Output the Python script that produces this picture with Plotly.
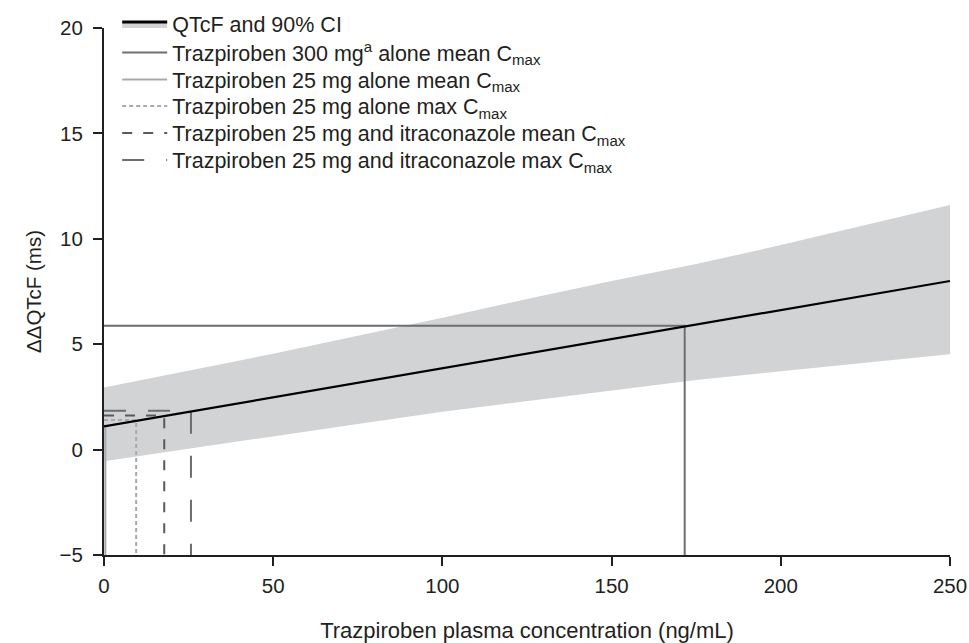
import plotly.graph_objects as go

# Concentration grid (ng/mL) and model-predicted ΔΔQTcF (ms) with 90% CI
conc = [0, 25, 50, 75, 100, 125, 150, 175, 200, 225, 250]
qtcf_mean = [1.10, 1.79, 2.48, 3.17, 3.86, 4.55, 5.24, 5.93, 6.62, 7.31, 8.00]
ci_upper = [2.94, 3.75, 4.55, 5.40, 6.25, 7.15, 8.00, 8.80, 9.70, 10.65, 11.60]
ci_lower = [-0.55, 0.05, 0.62, 1.22, 1.80, 2.30, 2.78, 3.30, 3.72, 4.12, 4.52]

# Reference Cmax values (ng/mL) and the corresponding predicted ΔΔQTcF (ms)
ref_names = [
    "Trazpiroben 300 mg<sup>a</sup> alone mean C<sub>max</sub>",
    "Trazpiroben 25 mg alone mean C<sub>max</sub>",
    "Trazpiroben 25 mg alone max C<sub>max</sub>",
    "Trazpiroben 25 mg and itraconazole mean C<sub>max</sub>",
    "Trazpiroben 25 mg and itraconazole max C<sub>max</sub>",
]
ref_cmax = [171.6, 0.4, 9.5, 17.8, 25.7]
ref_qtcf = [5.87, 1.13, 1.40, 1.62, 1.84]
ref_colors = ["#6d6e71", "#a7a9ac", "#a7a9ac", "#58595b", "#6d6e71"]
ref_dash = ["solid", "solid", "4px,3px", "10px,11px", "22px,22px"]

Y_MIN, Y_MAX = -5, 20
X_MIN, X_MAX = 0, 250

FONT = "Liberation Sans, Arial, Helvetica, sans-serif"
TXT = "#231f20"

W, H = 969, 643
ML, MR, MT, MB = 104, 19, 28, 88
PH = H - MT - MB
PW = W - ML - MR

# legend row centres (px from top)
legend_rows = [24, 52.5, 79.5, 106, 133, 160]
legend_ids = ["legend", "legend2", "legend3", "legend4", "legend5", "legend6"]

fig = go.Figure()

# CI band
fig.add_trace(go.Scatter(x=conc, y=ci_lower, mode="lines", line=dict(width=0, color="#d1d3d4"),
                         showlegend=False, hoverinfo="skip"))
fig.add_trace(go.Scatter(x=conc, y=ci_upper, mode="lines", line=dict(width=0, color="#d1d3d4"),
                         fill="tonexty", fillcolor="#d1d3d4", showlegend=False, hoverinfo="skip"))

# Reference lines
for i, (nm, cx, qy, col, dsh) in enumerate(zip(ref_names, ref_cmax, ref_qtcf, ref_colors, ref_dash)):
    fig.add_trace(go.Scatter(
        x=[X_MIN, cx, cx], y=[qy, qy, Y_MIN], mode="lines",
        line=dict(color=col, width=2, dash=dsh),
        name=nm, legend=legend_ids[i + 1], showlegend=True,
    ))

# Mean line
fig.add_trace(go.Scatter(x=conc, y=qtcf_mean, mode="lines", line=dict(color="#000000", width=2.2),
                         showlegend=False))

# Legend entry for the QTcF line + CI
fig.add_trace(go.Scatter(x=[None], y=[None], mode="lines", name="QTcF and 90% CI",
                         line=dict(color="#000000", width=3), fill="toself", fillcolor="#d1d3d4",
                         legend="legend"))

legend_common = dict(xanchor="left", yanchor="middle", bgcolor="rgba(0,0,0,0)",
                     font=dict(size=21.5, family=FONT, color=TXT), itemwidth=45)
legend_layout = {}
for lid, ry in zip(legend_ids, legend_rows):
    legend_layout[lid] = dict(x=6 / PW + 0.0085, y=1 - (ry - MT) / PH, **legend_common)

fig.update_layout(
    width=W, height=H,
    margin=dict(l=ML, r=MR, t=MT, b=MB, autoexpand=False),
    paper_bgcolor="white", plot_bgcolor="white",
    font=dict(family=FONT, size=20, color=TXT),
    showlegend=True,
    xaxis=dict(range=[X_MIN, X_MAX], tickvals=[0, 50, 100, 150, 200, 250],
               showline=True, linecolor=TXT, linewidth=2, ticks="outside", ticklen=9,
               tickwidth=1.5, tickcolor=TXT, showgrid=False, zeroline=False, automargin=False,
               ticklabelstandoff=2,
               title=dict(text="Trazpiroben plasma concentration (ng/mL)", standoff=29,
                          font=dict(size=22)),
               tickfont=dict(size=20.5)),
    yaxis=dict(range=[Y_MIN, Y_MAX], tickvals=[-5, 0, 5, 10, 15, 20],
               ticktext=["\u22125", "0", "5", "10", "15", "20"],
               showline=True, linecolor=TXT, linewidth=2, ticks="outside", ticklen=9,
               tickwidth=1.5, tickcolor=TXT, showgrid=False, zeroline=False, automargin=False,
               ticklabelstandoff=6,
               title=dict(text="\u0394\u0394QTcF (ms)", standoff=12, font=dict(size=20.5)),
               tickfont=dict(size=20.5)),
    **legend_layout,
)

fig.write_html(
    "out.html",
    config={"displayModeBar": False},
    post_script="document.body.style.margin='0';document.body.style.overflow='hidden';",
)
